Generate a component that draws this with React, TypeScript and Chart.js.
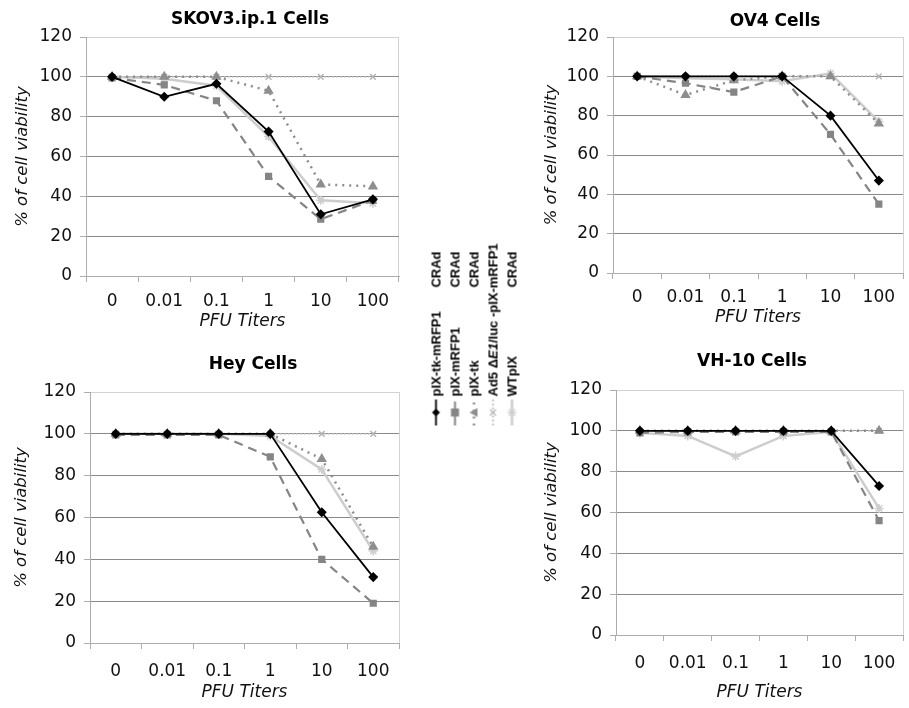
import React, { useEffect, useRef } from 'react';
import { Chart, registerables } from 'chart.js';

Chart.register(...registerables);

// ---------- data ----------
const categories = ['0', '0.01', '0.1', '1', '10', '100'];
const yTickValues = [0, 20, 40, 60, 80, 100, 120];

const legendNames = ['pIX-tk-mRFP1', 'pIX-mRFP1', 'pIX-tk', 'Ad5 ΔE1/luc -pIX-mRFP1', 'WTpIX'];
const legendSuffix = ['CRAd', 'CRAd', 'CRAd', '', 'CRAd'];

const panelTitles = ['SKOV3.ip.1 Cells', 'OV4 Cells', 'Hey Cells', 'VH-10 Cells'];

// SKOV3.ip.1
const skovTkMrfp = [100, 90, 96.5, 72.5, 31, 38.5];
const skovMrfp = [99.5, 96, 88, 50, 28.5, 38];
const skovTk = [100, 100, 100, 93, 46, 45];
const skovAd5 = [100, 100, 100, 100, 100, 100];
const skovWt = [100, 99, 95.5, 70, 38, 36.5];

// OV4
const ov4TkMrfp = [100, 100, 100, 100, 80, 47];
const ov4Mrfp = [100, 96.5, 92, 100, 70.5, 35];
const ov4Tk = [100, 90.5, 98, 100, 100, 76];
const ov4Ad5 = [100, 100, 100, 100, 100, 100];
const ov4Wt = [100, 99, 98.5, 97.5, 101.5, 77];

// Hey
const heyTkMrfp = [100, 100, 100, 100, 62.5, 31.5];
const heyMrfp = [99.5, 99.5, 99.5, 89, 40, 19];
const heyTk = [100, 100, 100, 100, 88, 46];
const heyAd5 = [100, 100, 100, 100, 100, 100];
const heyWt = [100, 100, 100, 99, 83, 44];

// VH-10
const vhTkMrfp = [100, 100, 100, 100, 100, 73];
const vhMrfp = [99, 99.5, 99.5, 99.5, 99.5, 56];
const vhTk = [100, 100, 100, 100, 100, 100];
const vhAd5 = [100, 100, 100, 100, 100, 100];
const vhWt = [99, 97.5, 87.5, 97.5, 99.5, 62];

const panelData = [
  [skovTkMrfp, skovMrfp, skovTk, skovAd5, skovWt],
  [ov4TkMrfp, ov4Mrfp, ov4Tk, ov4Ad5, ov4Wt],
  [heyTkMrfp, heyMrfp, heyTk, heyAd5, heyWt],
  [vhTkMrfp, vhMrfp, vhTk, vhAd5, vhWt],
];

// ---------- styles ----------
const seriesStyles = [
  { color: '#000000', width: 1.8, dash: [] as number[], point: 'rectRot', radius: 4, fill: '#000000' },
  { color: '#858585', width: 2.2, dash: [9, 6], point: 'rect', radius: 4, fill: '#858585' },
  { color: '#8e8e8e', width: 2.5, dash: [2, 5], point: 'triangle', radius: 4.5, fill: '#8e8e8e' },
  { color: '#b4b4b4', width: 1.5, dash: [2, 2], point: 'crossRot', radius: 4, fill: '#b4b4b4' },
  { color: '#cdcdcd', width: 2.5, dash: [] as number[], point: 'star', radius: 4.5, fill: '#cdcdcd' },
];

const FONT = 'DejaVu Sans, Verdana, sans-serif';
const Y_TITLE_SIZE = 16.5;
const TICK_SIZE = 17;

type Layout = {
  box: { left: number; top: number; width: number; height: number };
  plot: { left: number; right: number; top: number; bottom: number };
  yTitleCenter: number;
  xTitleCenter: number;
  xTickPad: number;
  title: { x: number; y: number };
};

const layouts: Layout[] = [
  { box: { left: 0, top: 0, width: 405, height: 340 }, plot: { left: 86, right: 399, top: 37, bottom: 276 }, yTitleCenter: 23, xTitleCenter: 322, xTickPad: 9, title: { x: 250, y: 18 } },
  { box: { left: 520, top: 0, width: 389, height: 340 }, plot: { left: 613, right: 908, top: 37, bottom: 273 }, yTitleCenter: 552, xTitleCenter: 318, xTickPad: 8, title: { x: 775, y: 20 } },
  { box: { left: 0, top: 345, width: 405, height: 363 }, plot: { left: 90, right: 400, top: 392, bottom: 643 }, yTitleCenter: 22, xTitleCenter: 693, xTickPad: 12, title: { x: 253, y: 363 } },
  { box: { left: 520, top: 345, width: 389, height: 363 }, plot: { left: 616, right: 908, top: 390, bottom: 635 }, yTitleCenter: 552, xTitleCenter: 693, xTickPad: 12, title: { x: 752, y: 360 } },
];

function Panel({ idx }: { idx: number }) {
  const ref = useRef<HTMLCanvasElement | null>(null);
  const L = layouts[idx];
  useEffect(() => {
    if (!ref.current) return;
    const { box, plot } = L;
    const yWidth = plot.left - box.left;
    const xHeight = box.top + box.height - plot.bottom;
    const yTitleLH = Y_TITLE_SIZE * 1.2;
    const xTitleLH = 17 * 1.2;
    const yTitlePad = L.yTitleCenter - box.left - yTitleLH / 2;
    const xTitlePad = box.top + box.height - L.xTitleCenter - xTitleLH / 2;
    const series = panelData[idx];
    const chart = new Chart(ref.current, {
      type: 'line',
      data: {
        labels: categories,
        datasets: series.map((vals, i) => {
          const s = seriesStyles[i];
          return {
            label: legendNames[i],
            data: vals,
            borderColor: s.color,
            borderWidth: s.width,
            borderDash: s.dash,
            pointStyle: s.point as any,
            pointRadius: s.radius,
            pointBackgroundColor: s.fill,
            pointBorderColor: s.color,
            pointBorderWidth: 1.5,
            fill: false,
            tension: 0,
          };
        }),
      },
      options: {
        animation: false,
        responsive: false,
        maintainAspectRatio: false,
        events: [],
        layout: {
          padding: {
            top: plot.top - box.top,
            left: 0,
            right: box.left + box.width - plot.right,
            bottom: 0,
          },
        },
        plugins: {
          legend: { display: false },
          tooltip: { enabled: false },
          title: { display: false },
        },
        scales: {
          x: {
            type: 'category',
            offset: true,
            grid: {
              offset: true,
              drawOnChartArea: true,
              color: (ctx: any) => (ctx.tick ? 'rgba(0,0,0,0)' : '#d2d2d2'),
              tickColor: '#adadad',
              tickLength: 6,
            },
            border: { color: '#adadad' },
            ticks: {
              color: '#111',
              padding: L.xTickPad,
              maxRotation: 0,
              minRotation: 0,
              autoSkip: false,
              font: { family: FONT, size: TICK_SIZE },
            },
            title: {
              display: true,
              text: 'PFU Titers',
              color: '#111',
              font: { family: FONT, size: 17, style: 'italic' },
              padding: { top: 0, bottom: xTitlePad },
            },
            afterFit: (s: any) => {
              s.height = xHeight;
            },
          },
          y: {
            min: 0,
            max: 120,
            afterBuildTicks: (s: any) => {
              s.ticks = yTickValues.map((v) => ({ value: v }));
            },
            grid: {
              color: (ctx: any) =>
                ctx.tick && (ctx.tick.value === 120 || ctx.tick.value === 0) ? '#d2d2d2' : '#8a8a8a',
              tickColor: '#adadad',
              tickLength: 6,
            },
            border: { color: '#adadad' },
            ticks: {
              color: '#111',
              padding: 8,
              font: { family: FONT, size: TICK_SIZE },
            },
            title: {
              display: true,
              text: '% of cell viability',
              color: '#111',
              font: { family: FONT, size: Y_TITLE_SIZE, style: 'italic' },
              padding: { top: yTitlePad, bottom: 0 },
            },
            afterFit: (s: any) => {
              s.width = yWidth;
            },
          },
        },
      },
    });
    return () => chart.destroy();
  }, [idx]);
  return (
    <>
      <canvas
        ref={ref}
        width={L.box.width}
        height={L.box.height}
        style={{ position: 'absolute', left: L.box.left, top: L.box.top, width: L.box.width, height: L.box.height }}
      />
      <div
        style={{
          position: 'absolute',
          left: L.title.x,
          top: L.title.y,
          transform: 'translate(-50%, -50%)',
          fontFamily: FONT,
          fontWeight: 'bold',
          fontSize: 17,
          color: '#000',
          whiteSpace: 'nowrap',
          lineHeight: 1,
        }}
      >
        {panelTitles[idx]}
      </div>
    </>
  );
}

function LegendMarker({ i }: { i: number }) {
  const s = seriesStyles[i];
  const w = 26;
  const h = 19;
  const cx = w / 2;
  const cy = h / 2;
  const r = s.radius;
  let shape: React.ReactNode = null;
  if (s.point === 'rectRot') {
    shape = <polygon points={`${cx - r},${cy} ${cx},${cy - r} ${cx + r},${cy} ${cx},${cy + r}`} fill={s.fill} />;
  } else if (s.point === 'rect') {
    shape = <rect x={cx - r} y={cy - r} width={2 * r} height={2 * r} fill={s.fill} />;
  } else if (s.point === 'triangle') {
    shape = <polygon points={`${cx},${cy - r} ${cx + r},${cy + r * 0.8} ${cx - r},${cy + r * 0.8}`} fill={s.fill} />;
  } else if (s.point === 'crossRot') {
    const d = r * 0.75;
    shape = (
      <g stroke={s.color} strokeWidth={1.3}>
        <line x1={cx - d} y1={cy - d} x2={cx + d} y2={cy + d} />
        <line x1={cx - d} y1={cy + d} x2={cx + d} y2={cy - d} />
      </g>
    );
  } else {
    const d = r * 0.75;
    shape = (
      <g stroke={s.color} strokeWidth={1.3}>
        <line x1={cx - d} y1={cy - d} x2={cx + d} y2={cy + d} />
        <line x1={cx - d} y1={cy + d} x2={cx + d} y2={cy - d} />
        <line x1={cx - r} y1={cy} x2={cx + r} y2={cy} />
        <line x1={cx} y1={cy - r} x2={cx} y2={cy + r} />
      </g>
    );
  }
  return (
    <svg width={w} height={h} style={{ display: 'block', flex: 'none' }}>
      <line
        x1={0}
        y1={cy}
        x2={w}
        y2={cy}
        stroke={s.color}
        strokeWidth={s.width}
        strokeDasharray={s.dash.length ? s.dash.join(' ') : undefined}
      />
      {shape}
    </svg>
  );
}

function LegendName({ i }: { i: number }) {
  const name = legendNames[i];
  if (name.includes('ΔE1')) {
    const [a, b] = name.split('ΔE1');
    return (
      <span>
        {a}Δ<i>E1</i>
        {b}
      </span>
    );
  }
  return <span>{name}</span>;
}

function Legend() {
  const rowH = 19;
  const markerW = 26;
  const gap = 3;
  const textW = 145;
  const W = markerW + gap + textW;
  const H = rowH * legendNames.length;
  const centerX = 473.5;
  const bottomY = 425;
  const centerY = bottomY - W / 2;
  return (
    <div
      style={{
        position: 'absolute',
        left: centerX - W / 2,
        top: centerY - H / 2,
        width: W,
        height: H,
        transform: 'rotate(-90deg)',
        transformOrigin: 'center center',
        fontFamily: 'Liberation Sans, Arial, sans-serif',
        fontWeight: 'bold',
        fontSize: 13,
        color: '#000',
      }}
    >
      {legendNames.map((_, i) => (
        <div key={i} style={{ display: 'flex', alignItems: 'center', height: rowH }}>
          <LegendMarker i={i} />
          <div
            style={{
              marginLeft: gap,
              width: textW,
              display: 'flex',
              justifyContent: 'space-between',
              whiteSpace: 'nowrap',
              lineHeight: 1,
            }}
          >
            <LegendName i={i} />
            <span>{legendSuffix[i]}</span>
          </div>
        </div>
      ))}
    </div>
  );
}

export default function App() {
  Chart.defaults.font.family = FONT;
  return (
    <div
      style={{
        position: 'absolute',
        left: 0,
        top: 0,
        width: 909,
        height: 708,
        background: '#ffffff',
        overflow: 'hidden',
      }}
    >
      {[0, 1, 2, 3].map((i) => (
        <Panel key={i} idx={i} />
      ))}
      <Legend />
    </div>
  );
}
